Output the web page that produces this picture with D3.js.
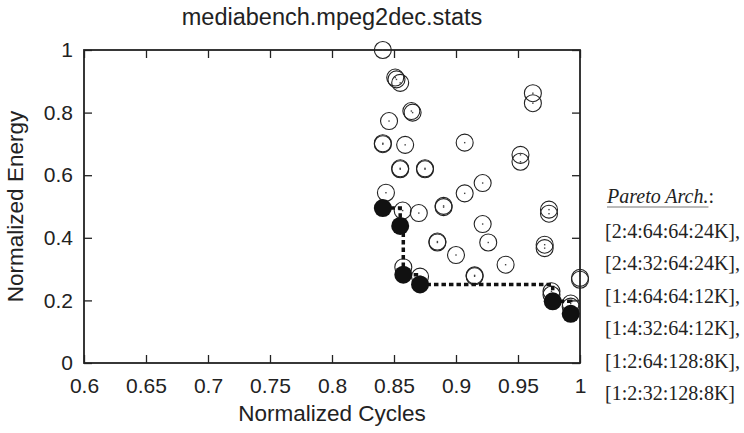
<!DOCTYPE html>
<html>
<head>
<meta charset="utf-8">
<script src="https://cdn.jsdelivr.net/npm/d3@7"></script>
<style>
  body { margin: 0; background: #fff; }
  svg { display: block; }
  .sans { font-family: "Liberation Sans", Arial, Helvetica, sans-serif; fill: #222; }
  .serif { font-family: "Liberation Serif", "Times New Roman", serif; fill: #222; }
</style>
</head>
<body>
<div id="chart"></div>
<script>
// all explored design points (normalized cycles, normalized energy)
const cycles = [
  0.841, 0.851, 0.852, 0.855, 0.864, 0.865, 0.846, 0.841, 0.841, 0.859,
  0.907, 0.962, 0.962, 0.952, 0.952, 0.855, 0.855, 0.875, 0.875, 0.9215,
  0.907, 0.8435, 0.857, 0.870, 0.890, 0.890, 0.975, 0.975, 0.9215, 0.885,
  0.885, 0.926, 0.900, 0.9715, 0.9715, 0.940, 0.915, 0.915, 0.8575, 0.871,
  1.0, 1.0, 0.977, 0.977, 0.9925, 0.9925
];
const energy = [
  1.0, 0.912, 0.906, 0.895, 0.805, 0.800, 0.773, 0.702, 0.699, 0.697,
  0.704, 0.862, 0.830, 0.665, 0.643, 0.622, 0.619, 0.622, 0.619, 0.575,
  0.542, 0.544, 0.487, 0.479, 0.502, 0.498, 0.490, 0.477, 0.444, 0.388,
  0.385, 0.385, 0.345, 0.378, 0.367, 0.314, 0.280, 0.277, 0.306, 0.276,
  0.272, 0.266, 0.229, 0.218, 0.190, 0.180
];

// pareto optimal architectures
const paretoCycles = [0.841, 0.855, 0.8575, 0.871, 0.978, 0.9925];
const paretoEnergy = [0.495, 0.438, 0.282, 0.251, 0.197, 0.157];
const paretoArchs = [
  '[2:4:64:64:24K],',
  '[2:4:32:64:24K],',
  '[1:4:64:64:12K],',
  '[1:4:32:64:12K],',
  '[1:2:64:128:8K],',
  '[1:2:32:128:8K]'
];

const xTicks = [0.6, 0.65, 0.7, 0.75, 0.8, 0.85, 0.9, 0.95, 1];
const xTickLabels = ['0.6', '0.65', '0.7', '0.75', '0.8', '0.85', '0.9', '0.95', '1'];
const yTicks = [0, 0.2, 0.4, 0.6, 0.8, 1];
const yTickLabels = ['0', '0.2', '0.4', '0.6', '0.8', '1'];

const W = 744;
const H = 433;
const plotL = 84, plotR = 580, plotT = 50, plotB = 363;

const svg = d3.select('#chart')
  .append('svg')
  .attr('width', W)
  .attr('height', H);

const x = d3.scaleLinear().domain([0.6, 1]).range([plotL, plotR]);
const y = d3.scaleLinear().domain([0, 1]).range([plotB, plotT]);

const tick = 8;

// axes, ticks point inwards on all four sides
svg.append('g')
  .attr('transform', `translate(0,${plotB})`)
  .call(d3.axisBottom(x).tickValues(xTicks)
    .tickFormat((d, i) => xTickLabels[i])
    .tickSizeInner(-tick).tickSizeOuter(0).tickPadding(15));

svg.append('g')
  .attr('transform', `translate(0,${plotT})`)
  .call(d3.axisTop(x).tickValues(xTicks).tickFormat('')
    .tickSizeInner(-tick).tickSizeOuter(0));

svg.append('g')
  .attr('transform', `translate(${plotL},0)`)
  .call(d3.axisLeft(y).tickValues(yTicks)
    .tickFormat((d, i) => yTickLabels[i])
    .tickSizeInner(-tick).tickSizeOuter(0).tickPadding(11));

svg.append('g')
  .attr('transform', `translate(${plotR},0)`)
  .call(d3.axisRight(y).tickValues(yTicks).tickFormat('')
    .tickSizeInner(-tick).tickSizeOuter(0));

svg.selectAll('.domain').remove();
svg.selectAll('.tick line').attr('stroke', '#222').attr('stroke-width', 1.3);
svg.selectAll('.tick text')
  .attr('font-family', '"Liberation Sans", Arial, Helvetica, sans-serif')
  .attr('font-size', 21)
  .attr('fill', '#222');

svg.append('rect')
  .attr('x', plotL)
  .attr('y', plotT)
  .attr('width', plotR - plotL)
  .attr('height', plotB - plotT)
  .attr('fill', 'none')
  .attr('stroke', '#222')
  .attr('stroke-width', 1.8);

// titles
svg.append('text')
  .attr('class', 'sans')
  .attr('x', (plotL + plotR) / 2)
  .attr('y', 25)
  .attr('text-anchor', 'middle')
  .attr('font-size', 23.5)
  .text('mediabench.mpeg2dec.stats');

svg.append('text')
  .attr('class', 'sans')
  .attr('x', (plotL + plotR) / 2)
  .attr('y', 421)
  .attr('text-anchor', 'middle')
  .attr('font-size', 22.5)
  .text('Normalized Cycles');

svg.append('text')
  .attr('class', 'sans')
  .attr('transform', `translate(23,${(plotT + plotB) / 2}) rotate(-90)`)
  .attr('text-anchor', 'middle')
  .attr('font-size', 22.5)
  .text('Normalized Energy');

// design points
const points = cycles.map((c, i) => ({c, e: energy[i]}));
const pareto = paretoCycles.map((c, i) => ({c, e: paretoEnergy[i]}));

const open = svg.append('g');
open.selectAll('circle')
  .data(points)
  .enter()
  .append('circle')
  .attr('cx', d => x(d.c))
  .attr('cy', d => y(d.e))
  .attr('r', 8.5)
  .attr('fill', 'none')
  .attr('stroke', '#222')
  .attr('stroke-width', 1.1);

open.selectAll('rect')
  .data(points)
  .enter()
  .append('rect')
  .attr('x', d => x(d.c) - 0.7)
  .attr('y', d => y(d.e) - 0.7)
  .attr('width', 1.4)
  .attr('height', 1.4)
  .attr('fill', '#444');

// pareto front as a step line
const line = d3.line()
  .x(d => x(d.c))
  .y(d => y(d.e))
  .curve(d3.curveStepAfter);

svg.append('path')
  .datum(pareto)
  .attr('d', line)
  .attr('fill', 'none')
  .attr('stroke', '#111')
  .attr('stroke-width', 3.5)
  .attr('stroke-dasharray', '4.5,3');

svg.append('g')
  .selectAll('circle')
  .data(pareto)
  .enter()
  .append('circle')
  .attr('cx', d => x(d.c))
  .attr('cy', d => y(d.e))
  .attr('r', 9)
  .attr('fill', '#111');

// pareto architecture list
const legend = svg.append('g')
  .attr('class', 'serif')
  .attr('font-size', 20);

const head = legend.append('text')
  .attr('x', 607)
  .attr('y', 203)
  .attr('font-style', 'italic');
const headWord = head.append('tspan').text('Pareto Arch.');
head.append('tspan').attr('font-style', 'normal').text(':');

legend.append('line')
  .attr('x1', 607)
  .attr('x2', 607 + headWord.node().getComputedTextLength())
  .attr('y1', 207)
  .attr('y2', 207)
  .attr('stroke', '#777')
  .attr('stroke-width', 1);

legend.selectAll('text.arch')
  .data(paretoArchs)
  .enter()
  .append('text')
  .attr('class', 'arch')
  .attr('x', 605)
  .attr('y', (d, i) => 238 + i * 32.4)
  .text(d => d);
</script>
</body>
</html>
